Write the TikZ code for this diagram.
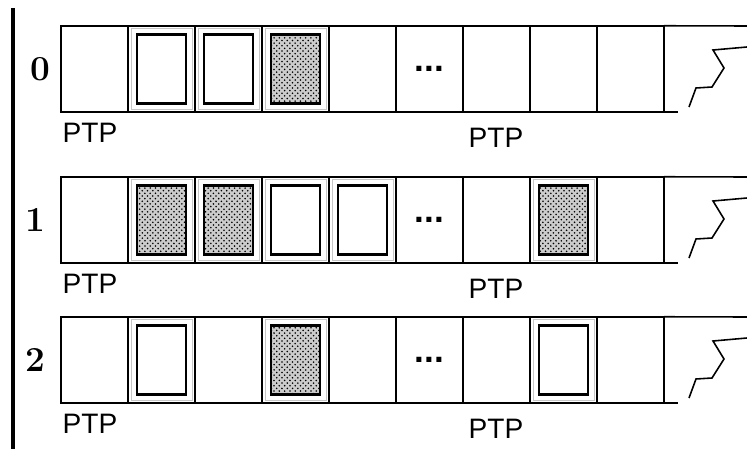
\documentclass[tikz,border=0pt]{standalone}
\usepackage{fontspec}
\newfontfamily\ptpfont{Liberation Sans}
\usetikzlibrary{patterns}
\tikzset{
  cell/.style  ={draw,line width=0.9pt,minimum width=1.34cm,minimum height=1.73cm,inner sep=0pt,outer sep=0pt},
  frm/.style   ={draw=gray!45,line width=0.5pt,minimum width=1.22cm,minimum height=1.62cm,inner sep=0pt},
  slot/.style  ={draw,line width=1.6pt,minimum width=0.98cm,minimum height=1.38cm,inner sep=0pt},
  full/.style  ={slot,preaction={fill=gray!40},pattern=crosshatch dots,pattern color=black},
  lbl/.style   ={font=\ptpfont\fontsize{16}{18}\selectfont,inner sep=0pt},
  num/.style   ={font=\fontsize{20}{22}\selectfont\bfseries,anchor=east,inner sep=0pt},
}
\begin{document}
\begin{tikzpicture}[x=0.02cm,y=-0.02cm]
  \useasboundingbox[fill=white] (0,0) rectangle (747,449);
  \draw[line width=2.3pt] (13,8) -- (13,449);
  \foreach \r/\top in {0/26,1/177,2/317} {
    \foreach \i in {1,...,9}
      \node[cell] (c\r-\i) at ({61+67*(\i-0.5)},\top+43) {};
    \draw[line width=0.9pt] (c\r-9.north east) -- (747,\top);
    \draw[line width=0.9pt] (c\r-9.south east) -- +(14,0);
    \draw[line width=0.9pt] (689,\top+81) -- (696,\top+62) -- (712,\top+61)
      -- (724,\top+42) -- (713,\top+24) -- (747,\top+21);
    \node[inner sep=0pt] (dd\r) at (c\r-6) {\ptpfont\bfseries\fontsize{20}{20}\selectfont...};
    \node[lbl] (pa\r) at (90,\top+107) {PTP};
    \node[lbl] (pb\r) at (496,\top+112) {PTP};
  }
  \node[num] (n0) at (51,69) {0};
  \node[num] (n1) at (46,220) {1};
  \node[num] (n2) at (46,360) {2};
  % empty slots
  \foreach \r/\i in {0/2,0/3,1/4,1/5,2/2,2/8} {
    \node[frm] (f\r-\i) at (c\r-\i) {};
    \node[slot] (s\r-\i) at (c\r-\i) {};
  }
  % filled slots
  \foreach \r/\i in {0/4,1/2,1/3,1/8,2/4} {
    \node[frm] (f\r-\i) at (c\r-\i) {};
    \node[full] (s\r-\i) at (c\r-\i) {};
  }
\end{tikzpicture}
\end{document}
